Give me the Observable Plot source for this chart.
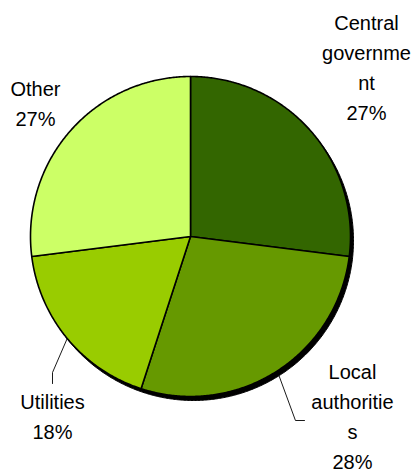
<!DOCTYPE html>
<html><head><meta charset="utf-8">
<script src="https://cdn.jsdelivr.net/npm/d3@7"></script>
<script src="https://cdn.jsdelivr.net/npm/@observablehq/plot@0.6"></script>
<style>html,body{margin:0;padding:0;background:#fff}</style>
</head><body><div id="chart"></div>
<script>
// ---- data ----
const categories = ["Central government", "Local authorities", "Utilities", "Other"];
const values = [27, 28, 18, 27];
const labelLines = ["Central\ngovernme\nnt", "Local\nauthoritie\ns", "Utilities", "Other"];
const colors = ["#336600", "#669900", "#99CC00", "#CCFF66"];

// ---- layout (in pie-radius units) ----
const labelAt = [[1.10, 1.069], [1.0125, -1.114], [-0.8625, -1.112], [-0.969, 0.842]];
const leaderLayout = [
  {cat: "Local authorities", r0: 1.035, pts: [[0.656, -1.15], [0.7125, -1.15]]},
  {cat: "Utilities", r0: 1.0, pts: [[-0.8625, -0.85], [-0.8625, -0.919]]}
];

// ---- build slice geometry from values ----
const total = d3.sum(values);
let acc = 0;
const slices = categories.map((c, i) => {
  const a0 = acc / total * 2 * Math.PI;
  acc += values[i];
  const a1 = acc / total * 2 * Math.PI;
  return {cat: c, a0, a1, mid: (a0 + a1) / 2, pct: Math.round(values[i] / total * 100)};
});
const slicePts = [];
for (const s of slices) {
  slicePts.push({cat: s.cat, x: 0, y: 0});
  const n = Math.max(2, Math.ceil((s.a1 - s.a0) / (Math.PI / 360)));
  for (let k = 0; k <= n; k++) {
    const a = s.a0 + (s.a1 - s.a0) * k / n;
    slicePts.push({cat: s.cat, x: Math.sin(a), y: Math.cos(a)});
  }
  slicePts.push({cat: s.cat, x: 0, y: 0});
}
const labels = slices.map((s, i) => ({
  x: labelAt[i][0], y: labelAt[i][1],
  text: labelLines[i] + "\n" + s.pct + "%"
}));
const leaderPts = [];
for (const L of leaderLayout) {
  const s = slices.find(d => d.cat === L.cat);
  leaderPts.push({cat: L.cat, x: L.r0 * Math.sin(s.mid), y: L.r0 * Math.cos(s.mid)});
  for (const p of L.pts) leaderPts.push({cat: L.cat, x: p[0], y: p[1]});
}

const chart = Plot.plot({
  width: 417,
  height: 472,
  marginLeft: 30, marginRight: 67, marginTop: 76, marginBottom: 76,
  x: {domain: [-1, 1], axis: null},
  y: {domain: [-1, 1], axis: null},
  color: {domain: categories, range: colors},
  style: {fontFamily: "'Liberation Sans', Arial, sans-serif", background: "#fff", overflow: "visible"},
  marks: [
    // shadow
    Plot.line(slicePts, {x: "x", y: "y", z: "cat", fill: "#000", stroke: "#000", strokeWidth: 1, dx: 3, dy: 4}),
    // slices
    Plot.line(slicePts, {x: "x", y: "y", z: "cat", fill: "cat", stroke: "#000", strokeWidth: 1.6, strokeLinejoin: "round"}),
    // leader lines
    Plot.line(leaderPts, {x: "x", y: "y", z: "cat", stroke: "#000", strokeWidth: 0.9}),
    // labels
    Plot.text(labels, {x: "x", y: "y", text: "text", fontSize: 20, lineHeight: 1.5, fill: "#000", textAnchor: "middle"})
  ]
});
document.getElementById("chart").appendChild(chart);
</script>
</body></html>
